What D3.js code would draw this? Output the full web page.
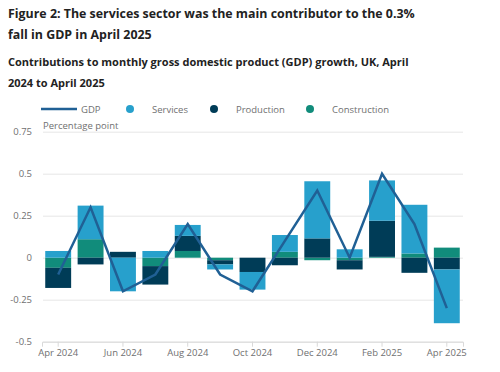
<!DOCTYPE html>
<html>
<head>
<meta charset="utf-8">
<script src="https://cdn.jsdelivr.net/npm/d3@7"></script>
<style>
  body { margin: 0; background: #fff; font-family: "Open Sans", sans-serif; }
  svg text { font-family: "Open Sans", sans-serif; }
</style>
</head>
<body>
<div id="chart"></div>
<script>
// data
var months = ["Apr 2024", "May 2024", "Jun 2024", "Jul 2024", "Aug 2024", "Sep 2024", "Oct 2024",
              "Nov 2024", "Dec 2024", "Jan 2025", "Feb 2025", "Mar 2025", "Apr 2025"];
var gdp          = [-0.1, 0.3, -0.2, -0.1, 0.2, -0.1, -0.2, 0.1, 0.4, 0.0, 0.5, 0.2, -0.3];
var services     = [0.04, 0.2, -0.2, 0.04, 0.065, -0.03, -0.105, 0.1, 0.34, 0.05, 0.24, 0.29, -0.32];
var production   = [-0.12, -0.04, 0.035, -0.11, 0.09, -0.025, -0.085, -0.045, 0.115, -0.055, 0.215, -0.09, -0.07];
var construction = [-0.06, 0.11, 0, -0.05, 0.04, -0.015, 0, 0.035, -0.015, -0.015, 0.005, 0.025, 0.06];
var yTicks = [-0.5, -0.25, 0, 0.25, 0.5, 0.75];
var xTickLabels = ["Apr 2024", "Jun 2024", "Aug 2024", "Oct 2024", "Dec 2024", "Feb 2025", "Apr 2025"];
var seriesNames = ["GDP", "Services", "Production", "Construction"];

var colors = { GDP: "#206095", Services: "#27a0cc", Production: "#003c57", Construction: "#118c7b" };

var svg = d3.select("#chart").append("svg")
    .attr("width", 500)
    .attr("height", 372);

// titles
var title = svg.append("text").attr("x", 8).attr("y", 17.5)
    .attr("font-size", 12.4).attr("font-weight", 700).attr("fill", "#222");
title.append("tspan").attr("x", 8).text("Figure 2: The services sector was the main contributor to the 0.3%");
title.append("tspan").attr("x", 8).attr("dy", 21.3).text("fall in GDP in April 2025");

var sub = svg.append("text").attr("x", 8).attr("y", 66)
    .attr("font-size", 11).attr("font-weight", 700).attr("fill", "#222");
sub.append("tspan").attr("x", 8).text("Contributions to monthly gross domestic product (GDP) growth, UK, April");
sub.append("tspan").attr("x", 8).attr("dy", 21.3).text("2024 to April 2025");

// legend
var legendX = [41, 130, 214, 310];
var legend = svg.append("g");
seriesNames.forEach(function(name, i) {
    if (name === "GDP") {
        legend.append("line").attr("x1", legendX[i]).attr("x2", legendX[i] + 36)
            .attr("y1", 109).attr("y2", 109)
            .attr("stroke", colors[name]).attr("stroke-width", 2.5);
        legend.append("text").attr("x", legendX[i] + 40).attr("y", 112.5)
            .attr("font-size", 9.5).attr("fill", "#707071").text(name);
    } else {
        legend.append("circle").attr("cx", legendX[i]).attr("cy", 109).attr("r", 4)
            .attr("fill", colors[name]);
        legend.append("text").attr("x", legendX[i] + 22).attr("y", 112.5)
            .attr("font-size", 9.5).attr("fill", "#707071").text(name);
    }
});

// scales
var x = d3.scaleBand().domain(months).range([42, 463]).paddingInner(0.2).paddingOuter(0.1);
var y = d3.scaleLinear().domain([-0.5, 0.75]).range([341.7, 131.7]);

// gridlines + y labels
var yAxis = svg.append("g").attr("transform", "translate(43,0)")
    .call(d3.axisLeft(y).tickValues(yTicks).tickSize(-420).tickPadding(11)
        .tickFormat(function(d) { return d === 0 ? "0" : String(d); }));
yAxis.select(".domain").remove();
yAxis.selectAll(".tick line").attr("stroke", "#e6e6e6");
yAxis.selectAll(".tick text").attr("font-size", 9.5).attr("fill", "#707071");

svg.append("text").attr("x", 43).attr("y", 129)
    .attr("font-size", 9.5).attr("fill", "#707071").text("Percentage point");

// stacked bars
var rows = months.map(function(m, i) {
    return { month: m, Construction: construction[i], Production: production[i], Services: services[i] };
});
var stack = d3.stack().keys(["Construction", "Production", "Services"]).offset(d3.stackOffsetDiverging);
var layers = stack(rows);

svg.append("g").selectAll("g")
    .data(layers)
    .join("g")
    .attr("fill", function(d) { return colors[d.key]; })
    .selectAll("rect")
    .data(function(d) { return d; })
    .join("rect")
    .attr("x", function(d) { return x(d.data.month); })
    .attr("width", x.bandwidth())
    .attr("y", function(d) { return y(Math.max(d[0], d[1])); })
    .attr("height", function(d) { return Math.abs(y(d[0]) - y(d[1])); });

// x axis
var xAxis = svg.append("g").attr("transform", "translate(0," + y(-0.5) + ")")
    .call(d3.axisBottom(x).tickValues(xTickLabels).tickSize(5).tickPadding(3));
xAxis.select(".domain").attr("stroke", "#d9d9d9");
xAxis.selectAll(".tick line").attr("stroke", "#d9d9d9");
xAxis.selectAll(".tick text").attr("font-size", 9.5).attr("fill", "#707071");

// GDP line
var line = d3.line()
    .x(function(d, i) { return x(months[i]) + x.bandwidth() / 2; })
    .y(function(d) { return y(d); });
svg.append("path").datum(gdp)
    .attr("d", line)
    .attr("fill", "none")
    .attr("stroke", colors.GDP)
    .attr("stroke-width", 2.5);
</script>
</body>
</html>
